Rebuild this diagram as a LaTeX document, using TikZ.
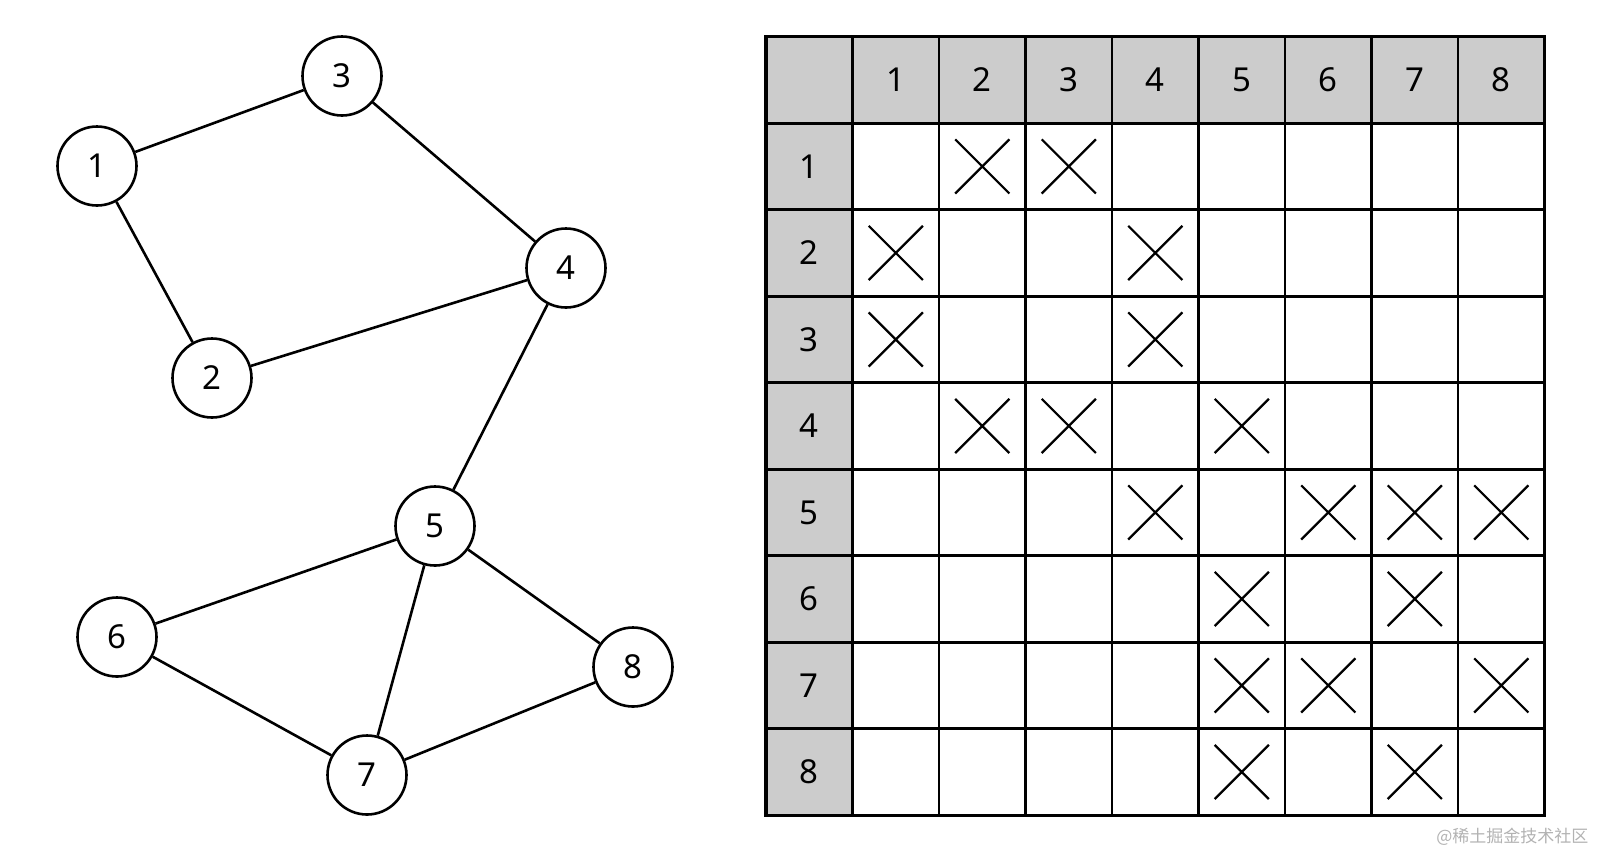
\documentclass[tikz,border=0pt]{standalone}
\usepackage{fontspec}
\setmainfont{Noto Sans}
\newfontfamily\cjkfont{Noto Sans CJK SC}
\usetikzlibrary{positioning, shapes.misc}
\definecolor{headgray}{RGB}{204,204,204}
\definecolor{markgray}{RGB}{178,178,178}

\begin{document}
\begin{tikzpicture}[x=1pt, y=-1pt,
  vertex/.style={circle, draw, line width=2.6pt, minimum size=79pt, inner sep=0pt, font=\fontsize{33}{40}\selectfont},
  edge/.style={line width=2.6pt},
  gridline/.style={line width=2.6pt, line cap=rect},
  cellnum/.style={font=\fontsize{33}{40}\selectfont},
  xmark/.style={cross out, draw, minimum size=52pt, inner sep=0pt, line width=2.2pt}]
  \useasboundingbox (0,0) rectangle (1600,852);
  % Graph
  \node[vertex] (v1) at (97,166) {1};
  \node[vertex] (v2) at (212,378) {2};
  \node[vertex] (v3) at (342,76) {3};
  \node[vertex] (v4) at (566,268) {4};
  \node[vertex] (v5) at (435,526) {5};
  \node[vertex] (v6) at (117,637) {6};
  \node[vertex] (v7) at (367,775) {7};
  \node[vertex] (v8) at (633,667) {8};
  \draw[edge] (v1) -- (v3);
  \draw[edge] (v1) -- (v2);
  \draw[edge] (v3) -- (v4);
  \draw[edge] (v2) -- (v4);
  \draw[edge] (v4) -- (v5);
  \draw[edge] (v5) -- (v6);
  \draw[edge] (v5) -- (v7);
  \draw[edge] (v5) -- (v8);
  \draw[edge] (v6) -- (v7);
  \draw[edge] (v7) -- (v8);
  % Adjacency table
  \fill[headgray] (766,36.7) rectangle (1544.5,123.2);
  \fill[headgray] (766,36.7) rectangle (852.5,815.2);
  \foreach \i in {0,...,9} {
    \draw[gridline] ({766+86.5*\i},36.7) -- ({766+86.5*\i},815.2);
    \draw[gridline] (766,{36.7+86.5*\i}) -- (1544.5,{36.7+86.5*\i});
  }
  \draw[line width=3.2pt] (766,36.7) rectangle (1544.5,815.2);
  \foreach \k in {1,...,8} {
    \node[cellnum] (col\k) at ({809.25+86.5*\k},79.95) {\k};
    \node[cellnum] (row\k) at (809.25,{79.95+86.5*\k}) {\k};
  }
  \foreach \r/\c in {1/2,1/3,2/1,2/4,3/1,3/4,4/2,4/3,4/5,5/4,5/6,5/7,5/8,
                     6/5,6/7,7/5,7/6,7/8,8/5,8/7}
    \node[xmark] (m\r\c) at ({809.25+86.5*\c},{79.95+86.5*\r}) {};
  % Watermark
  \node[anchor=east, markgray, font=\cjkfont\fontsize{17}{20}\selectfont] (mark) at (1592,837) {@稀土掘金技术社区};
\end{tikzpicture}
\end{document}
